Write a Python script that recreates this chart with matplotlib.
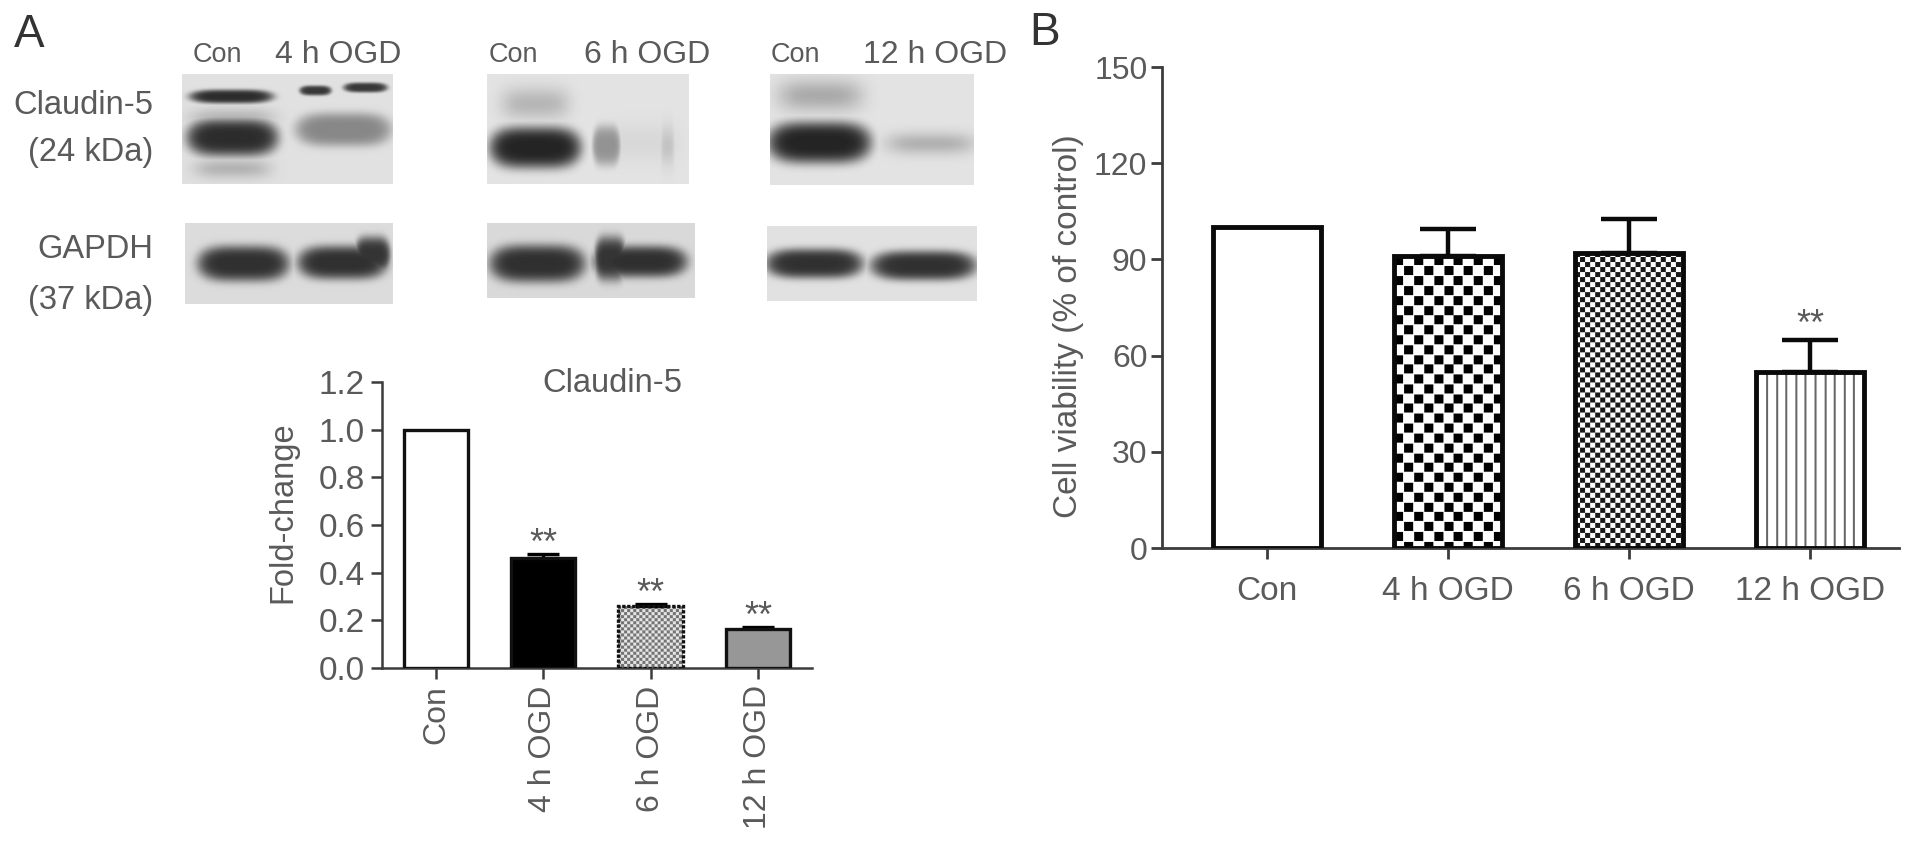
import numpy as np
import matplotlib
matplotlib.use("Agg")
import matplotlib.pyplot as plt

W, H = 1913, 846
plt.rcParams['font.family'] = ['Liberation Sans', 'DejaVu Sans']

GREY = "#5a5a5a"
AXC = "#3c3c3c"

# chart data
groups = ["Con", "4 h OGD", "6 h OGD", "12 h OGD"]
fold_vals = [1.0, 0.46, 0.26, 0.165]
fold_errs = [0.0, 0.02, 0.008, 0.005]
fold_stars = [None, 0.55, 0.34, 0.243]
via_vals = [100, 91, 92, 55]
via_errs = [0, 8.5, 10.5, 10]
via_stars = [None, None, None, 71.5]

# blot panels: x0, x1, y0, y1, grey level
blots = [
    (182, 393, 74, 184, 0.88), (487, 689, 74, 184, 0.89), (770, 974, 74, 185, 0.89),
    (185, 393, 223, 304, 0.86), (487, 695, 223, 298, 0.85), (767, 977, 226, 301, 0.88),
]
# blot bands: cx, cy, rx, ry, darkness
bands = [
    (231, 96, 42, 7, 0.8), (232, 137, 46, 19, 0.8), (232, 168, 38, 10, 0.2), (232, 118, 42, 10, 0.2),
    (315, 90, 16, 5, 0.75), (365, 87, 22, 5, 0.75), (343, 129, 48, 17, 0.4),
    (535, 103, 34, 16, 0.2), (535, 147, 46, 21, 0.84), (606, 145, 14, 20, 0.35),
    (667, 145, 7, 20, 0.14), (640, 142, 40, 20, 0.05), (820, 95, 42, 16, 0.25),
    (819, 142, 52, 21, 0.84), (930, 143, 44, 11, 0.22),
    (243, 263, 46, 18, 0.78), (342, 262, 45, 17, 0.78), (372, 254, 18, 18, 0.76),
    (537, 263, 48, 19, 0.78), (640, 261, 47, 16, 0.78), (610, 258, 16, 22, 0.76),
    (814, 263, 49, 15, 0.78), (923, 265, 53, 15, 0.78),
]
left_labels = [("Claudin-5", 105), ("(24 kDa)", 152), ("GAPDH", 250), ("(37 kDa)", 300)]
top_labels = [("Con", 217, 19.5), ("4 h OGD", 338, 23), ("Con", 513, 19.5),
              ("6 h OGD", 647, 23), ("Con", 795, 19.5), ("12 h OGD", 935, 23)]

fig = plt.figure(figsize=(W / 100, H / 100), dpi=100, facecolor="white")


def px_axes(x0, y0, x1, y1):
    return fig.add_axes([x0 / W, 1 - y1 / H, (x1 - x0) / W, (y1 - y0) / H], facecolor="none")


bg = px_axes(0, 0, W, H)
img = np.ones((H, W))
yy, xx = np.mgrid[0:H, 0:W]
for x0, x1, y0, y1, g in blots:
    shade = np.ones((y1 - y0, x1 - x0))
    sx = xx[y0:y1, x0:x1]
    sy = yy[y0:y1, x0:x1]
    for cx, cy, rx, ry, d in bands:
        if x0 <= cx <= x1 and y0 <= cy <= y1:
            r2 = np.abs((sx - cx) / rx) ** 4 + ((sy - cy) / ry) ** 2
            power = 1.0 if d < 0.3 else 2.0
            shade = np.minimum(shade, 1 - d * np.exp(-r2 ** power))
    img[y0:y1, x0:x1] = g * shade
bg.imshow(img, cmap="gray", vmin=0, vmax=1, extent=(0, W, H, 0), aspect="auto", interpolation="bilinear")
bg.set_xlim(0, W)
bg.set_ylim(H, 0)
bg.axis("off")

bg.text(29, 35, "A", fontsize=33, color="#333333", ha="center", va="center")
bg.text(1045, 33, "B", fontsize=33, color="#333333", ha="center", va="center")
for s, y in left_labels:
    bg.text(153, y, s, fontsize=23.5, color=GREY, ha="right", va="center")
for s, x, fs in top_labels:
    bg.text(x, 55, s, fontsize=fs, color=GREY, ha="center", va="center")


def pattern_bar(ax, x, h, width, kind, period, dark, px_w, px_h, lo=0.0, hi=1.0):
    # pattern is built on a pixel grid so the cells stay square
    ii, jj = np.mgrid[0:int(px_h), 0:int(px_w)]
    if kind == "checker":
        a = (jj % period < dark) & (ii % period < dark)
        b = ((jj + period / 2) % period < dark) & ((ii + period / 2) % period < dark)
        arr = np.where(a | b, lo, hi)
    else:
        arr = np.where(jj % period < dark, lo, hi)
    ax.imshow(arr, cmap="gray", vmin=0, vmax=1, extent=(x - width / 2, x + width / 2, 0, h),
              aspect="auto", interpolation="bilinear", zorder=2)


def star(ax, x, y):
    ax.annotate("**", (x, y), xytext=(0, -12), textcoords="offset points", fontsize=26,
                color=GREY, ha="center", va="baseline")


def style_axes(ax, lw, labels):
    for s in ("top", "right"):
        ax.spines[s].set_visible(False)
    for s in ("left", "bottom"):
        ax.spines[s].set_linewidth(lw)
        ax.spines[s].set_color(AXC)
    ax.tick_params(axis="both", length=8, width=lw, color=AXC, labelcolor=GREY)
    ax.set_xticks(range(len(labels)))


# panel A, fold change
ax = px_axes(382, 382, 812, 668)
xpos = np.arange(len(groups))
wa = 0.6
cols_a = ["white", "black", None, "#979797"]
for i in xpos:
    px_h = fold_vals[i] / 1.2 * 286
    if cols_a[i] is None:
        pattern_bar(ax, i, fold_vals[i], wa, "checker", 6, 3, wa * 107.5, px_h, 0.45, 0.9)
        ax.bar(i, fold_vals[i], wa, facecolor="none", edgecolor="#111111", linewidth=2.4, zorder=3, linestyle=(0, (1, 0.5)))
    else:
        ax.bar(i, fold_vals[i], wa, facecolor=cols_a[i], edgecolor="#111111", linewidth=2.4, zorder=3)
    if fold_errs[i] > 0:
        ax.errorbar(i, fold_vals[i], yerr=[[0], [fold_errs[i]]], color="black", capsize=11.5, capthick=2.4, elinewidth=2.4, zorder=2.5)
    if fold_stars[i] is not None:
        star(ax, i, fold_stars[i])
style_axes(ax, 1.8, groups)
ax.set_xlim((382 - 436) / 107.3, (812 - 436) / 107.3)
ax.set_ylim(0, 1.2)
ax.set_yticks([0, 0.2, 0.4, 0.6, 0.8, 1.0, 1.2])
ax.set_yticklabels(["0.0", "0.2", "0.4", "0.6", "0.8", "1.0", "1.2"], fontsize=24)
ax.set_xticklabels(groups, rotation=90, fontsize=23)
ax.tick_params(axis="y", pad=4.5)
ax.tick_params(axis="x", pad=4.5)
bg.text(283, 512, "Fold-change", fontsize=23.5, color=GREY, rotation=90, ha="center", va="center")
bg.text(612, 384, "Claudin-5", fontsize=23.5, color=GREY, ha="center", va="center")

# panel B, viability
ax2 = px_axes(1162, 67, 1899, 548)
wb = 0.6
kinds_b = [None, "checker", "checker", "stripes"]
periods_b = [0, 19.6, 10, 9.6]
darks_b = [0, 9, 5, 2]
lows_b = [0, 0.0, 0.1, 0.4]
for i in xpos:
    px_h = via_vals[i] / 150 * 481
    if kinds_b[i]:
        pattern_bar(ax2, i, via_vals[i], wb, kinds_b[i], periods_b[i], darks_b[i], wb * 181, px_h, lows_b[i])
    else:
        ax2.bar(i, via_vals[i], wb, facecolor="white", zorder=1)
    ax2.bar(i, via_vals[i], wb, facecolor="none", edgecolor="#0a0a0a", linewidth=3.5, zorder=3)
    if via_errs[i] > 0:
        ax2.errorbar(i, via_vals[i], yerr=[[0], [via_errs[i]]], color="#0a0a0a", capsize=20, capthick=3.2, elinewidth=3.2, zorder=2.5)
    if via_stars[i] is not None:
        star(ax2, i, via_stars[i])
style_axes(ax2, 2, groups)
ax2.set_xlim((1162 - 1267) / 181, (1899 - 1267) / 181)
ax2.set_ylim(0, 150)
ax2.set_yticks([0, 30, 60, 90, 120, 150])
ax2.set_yticklabels(["0", "30", "60", "90", "120", "150"], fontsize=23)
ax2.set_xticklabels(groups, fontsize=24)
ax2.tick_params(axis="x", pad=12)
ax2.tick_params(axis="y", pad=2.5)
bg.text(1068, 326, "Cell viability (% of control)", fontsize=24, color=GREY, rotation=90, ha="center", va="center")

fig.savefig("out.png", dpi=100)
